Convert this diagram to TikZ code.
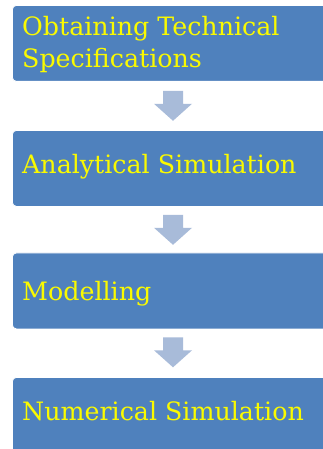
\documentclass[tikz,border=0pt]{standalone}
\usepackage{fontspec}
\newfontfamily\lblfont{DejaVu Serif}
\usetikzlibrary{calc}
\definecolor{boxblue}{HTML}{4F81BD}
\definecolor{arrowc}{HTML}{A8BBD9}
\definecolor{txty}{HTML}{FAFA00}
\tikzset{
  box/.style={rectangle, fill=boxblue, draw=white, line width=0.8pt, rounded corners=4pt,
    minimum width=340pt, minimum height=76pt, anchor=north west, inner sep=0pt},
  lbl/.style={anchor=base west, inner sep=0pt, text=txty, font=\lblfont\fontsize{25.3}{33}\selectfont},
  pics/downarrow/.style={code={
    \fill[arrowc] (-10,0) -- (10,0) -- (10,13) -- (19,13) -- (0,30) -- (-19,13) -- (-10,13) -- cycle;}}
}
\begin{document}
\begin{tikzpicture}[x=1pt,y=-1pt]
\useasboundingbox (0,0) rectangle (323,449);
\clip (0,0) rectangle (323,449);
\fill[white] (0,0) rectangle (323,449);
\node[box] (b1) at (12,5) {};
\node[box] (b2) at (12,130) {};
\node[box] (b3) at (12,252.5) {};
\node[box] (b4) at (12,377) {};
\node[lbl] (t1a) at (22,35.5) {Obtaining Technical};
\node[lbl] (t1b) at (22,68) {Specifications};
\node[lbl] (t2) at (22,173.5) {Analytical Simulation};
\node[lbl] (t3) at (22,300.5) {Modelling};
\node[lbl] (t4) at (22,420.5) {Numerical Simulation};
\path ($(b1.south west)+(161,9)$) pic {downarrow};
\path ($(b2.south west)+(161,8)$) pic {downarrow};
\path ($(b3.south west)+(161,8)$) pic {downarrow};
\end{tikzpicture}
\end{document}
